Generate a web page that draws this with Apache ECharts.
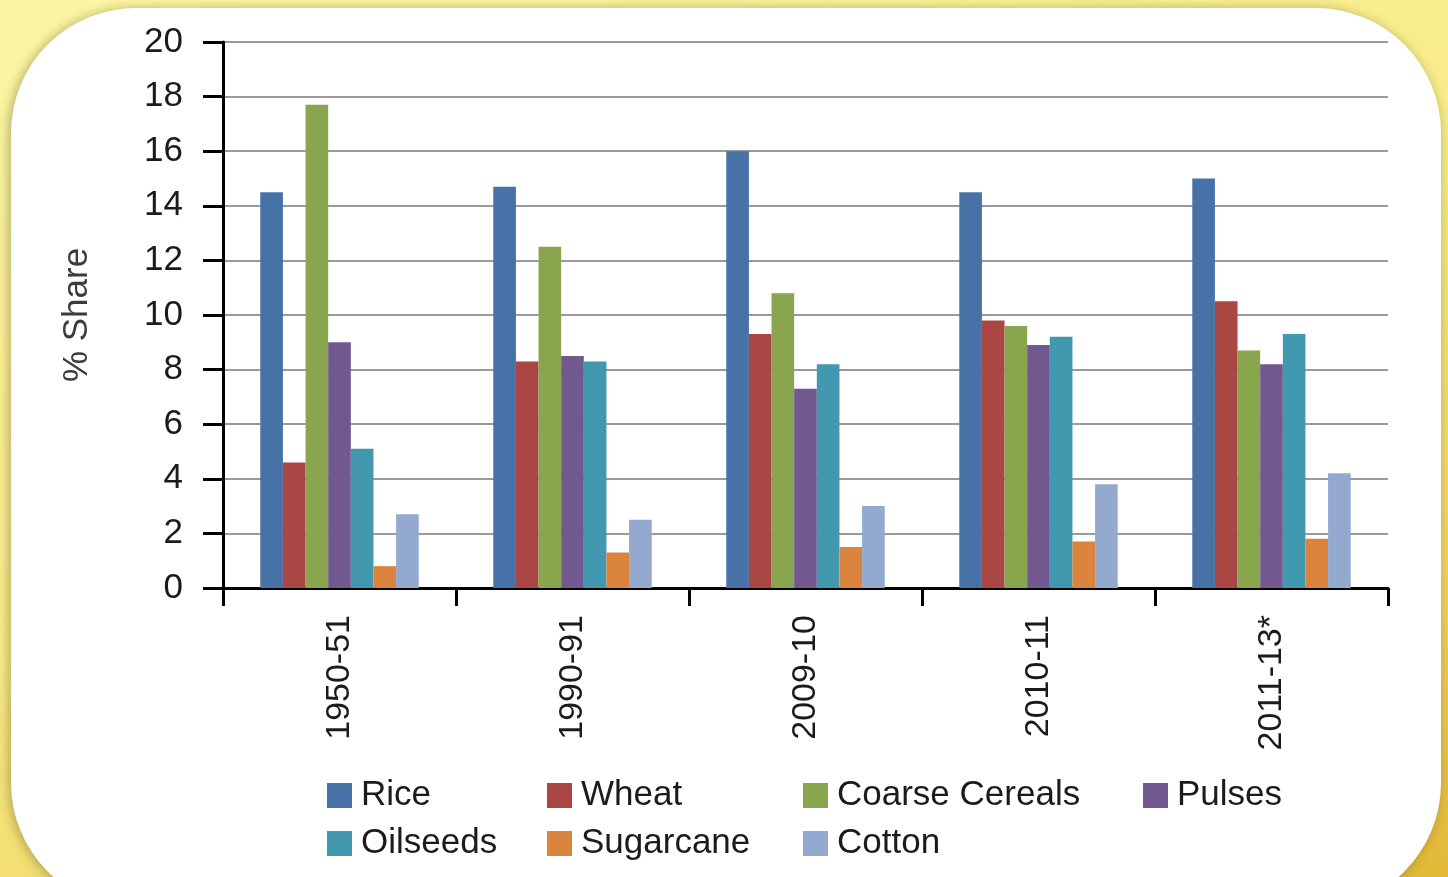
<!DOCTYPE html>
<html>
<head>
<meta charset="utf-8">
<script src="https://cdn.jsdelivr.net/npm/echarts@6/dist/echarts.min.js"></script>
<style>
  html, body { margin: 0; padding: 0; }
  body {
    width: 1448px; height: 877px; overflow: hidden;
    background: linear-gradient(160deg, #fcf6a4 0%, #f8ec8a 45%, #eed35a 80%, #e2b836 100%);
  }
  #chart { width: 1448px; height: 877px; }
</style>
</head>
<body>
<div id="chart"></div>
<script>
const categories = ['1950-51', '1990-91', '2009-10', '2010-11', '2011-13*']

const rice = [14.5, 14.7, 16.0, 14.5, 15.0]
const wheat = [4.6, 8.3, 9.3, 9.8, 10.5]
const coarseCereals = [17.7, 12.5, 10.8, 9.6, 8.7]
const pulses = [9.0, 8.5, 7.3, 8.9, 8.2]
const oilseeds = [5.1, 8.3, 8.2, 9.2, 9.3]
const sugarcane = [0.8, 1.3, 1.5, 1.7, 1.8]
const cotton = [2.7, 2.5, 3.0, 3.8, 4.2]

const seriesNames = ['Rice', 'Wheat', 'Coarse Cereals', 'Pulses', 'Oilseeds', 'Sugarcane', 'Cotton']
const seriesData = [rice, wheat, coarseCereals, pulses, oilseeds, sugarcane, cotton]
const colors = ['#4672a8', '#aa4745', '#89a54e', '#71588f', '#4198af', '#db843d', '#93a9cf']

const font = "'Liberation Sans', Arial, sans-serif"
const textColor = '#1a1a20'

const chart = echarts.init(document.getElementById('chart'), null, { renderer: 'canvas' })

// legend laid out as a grid of columns like the original
const legendColumns = [
  { left: 327, data: ['Rice', 'Oilseeds'] },
  { left: 547, data: ['Wheat', 'Sugarcane'] },
  { left: 803, data: ['Coarse Cereals', 'Cotton'] },
  { left: 1143, data: ['Pulses'] }
]

chart.setOption({
  animation: false,
  color: colors,
  graphic: [
    {
      type: 'rect',
      z: -10,
      shape: { x: 11, y: 8, width: 1430, height: 900, r: 125 },
      style: {
        fill: '#ffffff',
        shadowBlur: 12,
        shadowColor: 'rgba(90, 80, 40, 0.45)',
        shadowOffsetX: -2,
        shadowOffsetY: 1
      }
    }
  ],
  grid: {
    left: 223,
    right: 60,
    top: 42,
    bottom: 289,
    containLabel: false
  },
  legend: legendColumns.map((col) => ({
    orient: 'vertical',
    left: col.left,
    top: 778,
    padding: 0,
    itemGap: 13,
    itemWidth: 25,
    itemHeight: 25,
    icon: 'rect',
    selectedMode: false,
    data: col.data,
    textStyle: {
      fontFamily: font,
      fontSize: 35,
      color: textColor,
      padding: [0, 0, 0, 4]
    }
  })),
  xAxis: {
    type: 'category',
    data: categories,
    axisLine: { lineStyle: { color: '#000', width: 3 } },
    axisTick: { show: true, length: 18, lineStyle: { color: '#000', width: 3 } },
    axisLabel: {
      rotate: 90,
      margin: 27,
      fontFamily: font,
      fontSize: 34,
      color: textColor
    }
  },
  yAxis: {
    type: 'value',
    min: 0,
    max: 20,
    interval: 2,
    name: '% Share',
    nameLocation: 'middle',
    nameGap: 128,
    nameTextStyle: {
      fontFamily: font,
      fontSize: 35,
      color: '#3c3c40'
    },
    axisLine: { show: true, lineStyle: { color: '#000', width: 3 } },
    axisTick: { show: true, length: 20, lineStyle: { color: '#000', width: 3 } },
    axisLabel: {
      margin: 40,
      fontFamily: font,
      fontSize: 35,
      color: textColor
    },
    splitLine: { lineStyle: { color: '#9a9a9a', width: 2 } }
  },
  series: seriesNames.map((name, i) => ({
    name: name,
    type: 'bar',
    data: seriesData[i],
    barGap: '0%',
    barCategoryGap: '32%',
    itemStyle: { color: colors[i] }
  }))
})
</script>
</body>
</html>
